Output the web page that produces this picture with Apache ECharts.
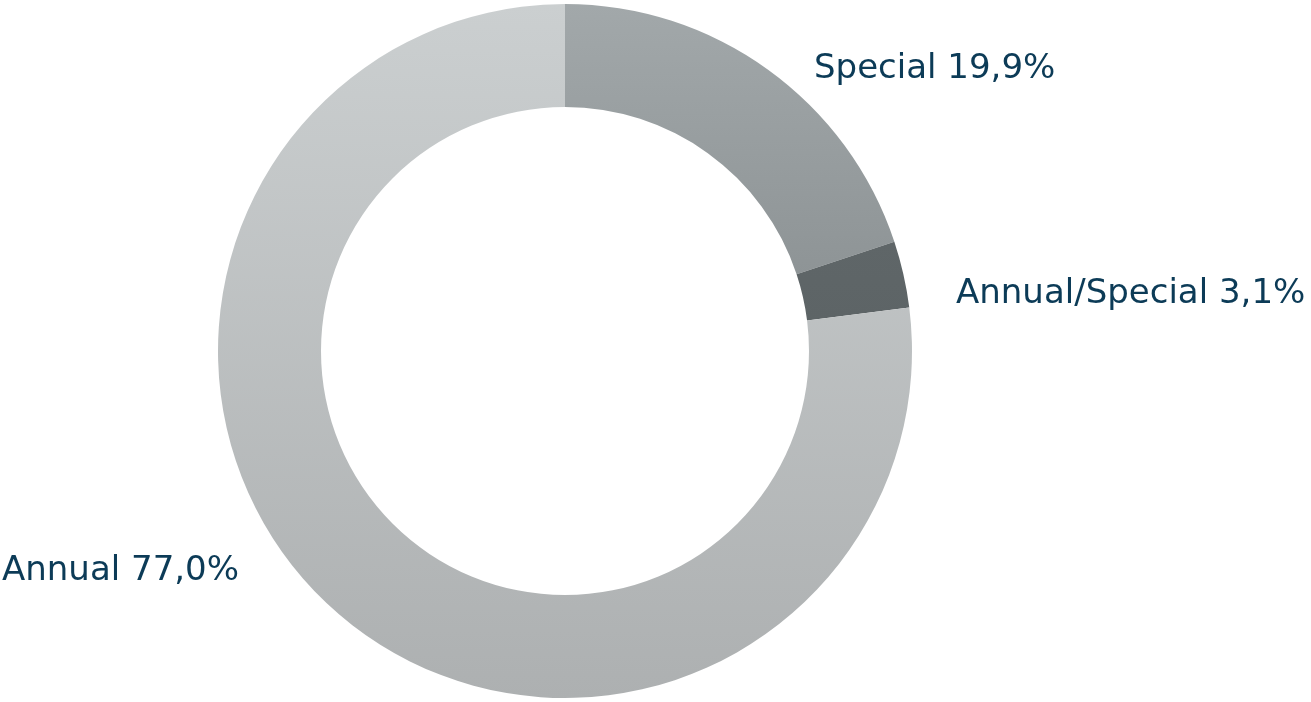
<!DOCTYPE html>
<html>
<head>
<meta charset="utf-8">
<style>
  html, body { margin: 0; padding: 0; background: #ffffff; }
  #chart { width: 1311px; height: 702px; }
</style>
<script src="https://cdn.jsdelivr.net/npm/echarts@6/dist/echarts.min.js"></script>
</head>
<body>
<div id="chart"></div>
<script>
// Share of meetings by type (percent)
const categories = ['Special', 'Annual/Special', 'Annual'];
const shares = [19.9, 3.1, 77.0];

// Vertical fills per slice: [top, bottom]
const sliceFills = [
  ['#a2a8aa', '#8e9496'],
  ['#5f6668', '#5d6466'],
  ['#cbcfd0', '#adb0b1']
];

// Where each label sits (left edge, vertical middle)
const labelSpots = [
  { x: 814, y: 69 },
  { x: 956, y: 294 },
  { x: 2, y: 571 }
];

function fmt(v) {
  return v.toFixed(1).replace('.', ',') + '%';
}

const chart = echarts.init(document.getElementById('chart'), null, { renderer: 'canvas' });

chart.setOption({
  animation: false,
  backgroundColor: '#ffffff',
  series: [{
    type: 'pie',
    center: [565, 351],
    radius: [244, 347],
    startAngle: 90,
    clockwise: true,
    avoidLabelOverlap: false,
    silent: true,
    label: {
      show: true,
      position: 'outside',
      color: '#0c3b57',
      fontFamily: '"DejaVu Sans", sans-serif',
      fontSize: 34,
      align: 'left',
      verticalAlign: 'middle',
      formatter: p => p.name + ' ' + fmt(p.value)
    },
    labelLine: { show: false },
    labelLayout: p => ({
      x: labelSpots[p.dataIndex].x,
      y: labelSpots[p.dataIndex].y,
      align: 'left',
      verticalAlign: 'middle'
    }),
    data: categories.map((name, i) => ({
      name: name,
      value: shares[i],
      itemStyle: {
        borderWidth: 0,
        color: new echarts.graphic.LinearGradient(0, 0, 0, 1, [
          { offset: 0, color: sliceFills[i][0] },
          { offset: 1, color: sliceFills[i][1] }
        ])
      }
    }))
  }]
});
</script>
</body>
</html>
